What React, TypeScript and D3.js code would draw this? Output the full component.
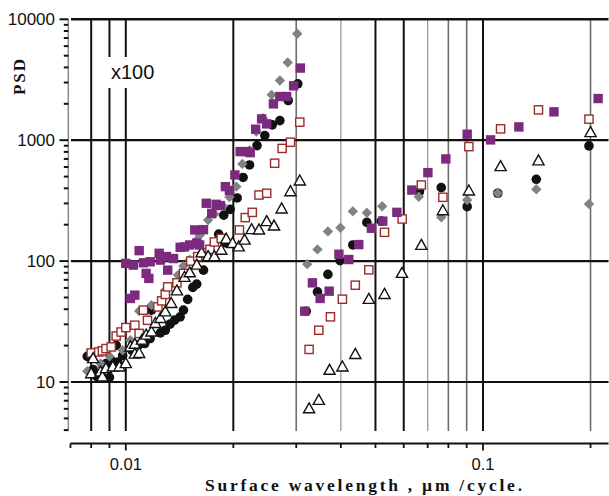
import React from "react";
import * as d3 from "d3";

// ---------- data (x: surface wavelength µm/cycle, y: PSD) ----------
const grayDiamonds: [number, number][] = [
  [0.0078, 12.3], [0.0085, 14.2], [0.009, 16.3], [0.0098, 18.3], [0.0103, 22.2], [0.0109, 38.7],
  [0.0118, 43.2], [0.0129, 57.5], [0.014, 76.6], [0.0145, 90.9], [0.0151, 102], [0.0158, 149],
  [0.0161, 164], [0.017, 219], [0.0177, 245], [0.0187, 286], [0.0195, 339], [0.0204, 413],
  [0.0212, 637], [0.0222, 824], [0.0232, 1179], [0.0242, 1522], [0.0256, 2373], [0.027, 3118],
  [0.0284, 4395], [0.0302, 7600],
  [0.0322, 94.4], [0.0344, 125], [0.0368, 176], [0.0399, 189], [0.0432, 258], [0.0473, 251],
  [0.0522, 284], [0.0661, 341], [0.0764, 230], [0.0903, 320], [0.11, 364], [0.141, 393], [0.198, 297],
];

const blackCircles: [number, number][] = [
  [0.0078, 16.3], [0.0081, 12.7], [0.0083, 11.1], [0.0086, 13.8], [0.0088, 14.2], [0.009, 10.9],
  [0.0091, 15.1], [0.0094, 20.1], [0.0095, 14.6], [0.0098, 16.6], [0.0104, 18.3], [0.0109, 20.4],
  [0.0113, 20.8], [0.0117, 22.9], [0.0118, 39.3], [0.0125, 25.5], [0.0129, 26.8], [0.0133, 30.1],
  [0.0137, 32.5], [0.0142, 34.6], [0.0145, 39.3], [0.0149, 48.2], [0.0154, 60.6], [0.0158, 64.5],
  [0.0165, 84.2], [0.0182, 167], [0.0188, 240], [0.0191, 141], [0.0196, 268], [0.0205, 333],
  [0.0213, 492], [0.0222, 624], [0.0233, 902], [0.0245, 1092], [0.0257, 1339], [0.027, 1453],
  [0.0285, 2129], [0.0303, 2927],
  [0.032, 38.5], [0.0344, 55.7], [0.0368, 77.6], [0.0398, 101], [0.0432, 136], [0.0473, 209],
  [0.0519, 214], [0.0664, 375], [0.0764, 405], [0.0903, 282], [0.11, 364], [0.141, 475], [0.198, 897],
];

const purpleSquares: [number, number][] = [
  [0.01, 95.7], [0.0103, 49.1], [0.0105, 92.7], [0.0106, 52.3], [0.0109, 122], [0.0112, 96.8],
  [0.0114, 79.1], [0.0116, 71.9], [0.0117, 98.7], [0.0124, 116], [0.0125, 102], [0.013, 109],
  [0.0131, 84.2], [0.0136, 105], [0.0142, 130], [0.0146, 131], [0.0151, 136], [0.0158, 141],
  [0.0161, 136], [0.0156, 181], [0.0165, 182], [0.0168, 301], [0.0174, 248], [0.0179, 295],
  [0.0184, 288], [0.019, 413], [0.0195, 384], [0.0202, 516], [0.0209, 805], [0.0218, 805],
  [0.0223, 789], [0.0231, 1233], [0.024, 1501], [0.0248, 1365], [0.0259, 1998], [0.027, 2297],
  [0.0282, 2297], [0.0295, 2818], [0.0308, 3950],
  [0.0317, 38.5], [0.0333, 66.1], [0.035, 49.1], [0.0371, 56.4], [0.0395, 114], [0.0421, 103],
  [0.0449, 137], [0.0487, 187], [0.0524, 214], [0.0574, 253], [0.0632, 387], [0.0701, 539],
  [0.0787, 700], [0.0903, 1121], [0.105, 1006], [0.126, 1288], [0.158, 1716], [0.21, 2211],
];

const openSquares: [number, number][] = [
  [0.008, 17.4], [0.0084, 17.7], [0.0086, 18.1], [0.0088, 18.9], [0.0091, 19.5], [0.0094, 24.0],
  [0.0097, 25.9], [0.01, 28.2], [0.0106, 29.5], [0.0109, 25.2], [0.0112, 39.3], [0.0115, 32.4],
  [0.0123, 41.8], [0.0126, 46.9], [0.0129, 53.0], [0.0131, 61.2], [0.0139, 66.1], [0.0145, 79.1],
  [0.0152, 100], [0.0159, 109], [0.0165, 117], [0.0172, 125], [0.0177, 144], [0.0185, 154],
  [0.0208, 181], [0.0216, 229], [0.0226, 253], [0.0236, 352], [0.0248, 364], [0.0261, 645],
  [0.0274, 855], [0.0289, 962], [0.0307, 1410],
  [0.0326, 18.6], [0.0347, 26.8], [0.0374, 34.6], [0.0404, 48.4], [0.0439, 63.2], [0.0479, 84.7],
  [0.053, 173], [0.0594, 223], [0.0672, 426], [0.0772, 337], [0.0913, 885], [0.112, 1241],
  [0.143, 1782], [0.198, 1493],
];

const openTriangles: [number, number][] = [
  [0.008, 11.7], [0.0081, 15.6], [0.0085, 12.1], [0.0086, 11.0], [0.0088, 12.9], [0.0092, 13.3],
  [0.0096, 13.3], [0.01, 14.2], [0.0103, 19.5], [0.0106, 20.5], [0.0106, 17.0], [0.0109, 17.2],
  [0.0111, 22.2], [0.0114, 24.4], [0.0118, 25.9], [0.0121, 30.5], [0.0125, 33.5], [0.0129, 38.0],
  [0.0134, 44.6], [0.0139, 56.7], [0.0146, 73.3], [0.0151, 80.0], [0.0158, 92.7], [0.0163, 117],
  [0.017, 109], [0.0177, 109], [0.0185, 123], [0.0191, 152], [0.0199, 140], [0.0207, 131],
  [0.0215, 149], [0.0225, 182], [0.0236, 181], [0.0248, 212], [0.026, 195], [0.0273, 270],
  [0.0289, 375], [0.0307, 460],
  [0.0326, 6.0], [0.0347, 7.05], [0.0372, 12.5], [0.0404, 13.3], [0.0439, 16.9], [0.0479, 48.2],
  [0.053, 53.0], [0.0593, 79.1], [0.0672, 135], [0.0772, 261], [0.0913, 380], [0.112, 604],
  [0.143, 674], [0.2, 1156],
];

const gridXValues = [0.008, 0.009, 0.01, 0.02, 0.03, 0.04, 0.05, 0.06, 0.07, 0.08, 0.09, 0.1, 0.2];
const heavyGridX = [0.008, 0.009, 0.01, 0.02, 0.05, 0.06, 0.1];
const xTickValues = [0.007, 0.008, 0.009, 0.01, 0.02, 0.03, 0.04, 0.05, 0.06, 0.07, 0.08, 0.09, 0.1, 0.2];
const xTickLabels: [number, string][] = [[0.01, "0.01"], [0.1, "0.1"]];
const yMajorValues = [10, 100, 1000, 10000];
const yTickLabels = ["10", "100", "1000", "10000"];

export default function App() {
  const W = 609, H = 496;
  const x = d3.scaleLog().domain([0.01, 0.1]).range([125.8, 483]);
  const y = d3.scaleLog().domain([10, 10000]).range([382, 19.3]);
  const plotLeft = 71, plotRight = 608.5, plotTop = 19.3, plotBottom = 431;
  const axisX = 68.3, axisY = 443.5;

  const yMinor: number[] = [];
  for (const dec of [1, 10, 100, 1000]) {
    for (let k = 2; k <= 9; k++) {
      const v = k * dec;
      if (y(v) <= plotBottom + 0.5 && v < 10000) yMinor.push(v);
    }
  }

  const gridStroke = (v: number) => {
    if (heavyGridX.includes(v)) return { stroke: "#111", w: 2 };
    if (v === 0.04 || v === 0.07) return { stroke: "#9a9a9a", w: 1.3 };
    return { stroke: "#6e6e6e", w: 1.6 };
  };

  const sq = 9.4, osq = 8.2, cr = 4.8, dr = 5.2;
  const purple = "#7c2a7e";
  const gray = "#818285";
  const darkRed = "#9b2c2c";

  return (
    <svg width={W} height={H} style={{ position: "absolute", left: 0, top: 0, background: "#fff" }}>
      <rect x={0} y={0} width={W} height={H} fill="#fff" />
      {/* vertical grid lines */}
      {gridXValues.map((v) => {
        const s = gridStroke(v);
        return <line key={"gx" + v} x1={x(v)} x2={x(v)} y1={plotTop} y2={plotBottom} stroke={s.stroke} strokeWidth={s.w} />;
      })}
      {/* horizontal grid lines */}
      {yMajorValues.map((v) => (
        <line key={"gy" + v} x1={plotLeft} x2={plotRight} y1={y(v)} y2={y(v)} stroke="#111" strokeWidth={v === 10000 ? 2.6 : 2.2} />
      ))}
      {/* x100 annotation */}
      <rect x={107} y={57} width={52} height={31} fill="#fff" />
      <text x={111} y={78.5} fontFamily="'Liberation Sans', Arial, sans-serif" fontSize={20} fill="#111">x100</text>

      {/* y axis */}
      <line x1={axisX} x2={axisX} y1={plotTop} y2={plotBottom} stroke="#8a8a8a" strokeWidth={1.5} />
      {yMajorValues.map((v) => (
        <line key={"yt" + v} x1={59.5} x2={axisX} y1={y(v)} y2={y(v)} stroke="#111" strokeWidth={2} />
      ))}
      {yMinor.map((v) => (
        <line key={"ym" + v} x1={63.8} x2={axisX} y1={y(v)} y2={y(v)} stroke="#111" strokeWidth={2} />
      ))}
      {yMajorValues.map((v, i) => (
        <text key={"yl" + v} x={55} y={y(v) + 6} textAnchor="end" fontFamily="'Liberation Sans', Arial, sans-serif" fontSize={17} fill="#111">
          {yTickLabels[i]}
        </text>
      ))}
      <text
        transform="translate(25,77) rotate(-90)"
        textAnchor="middle"
        fontFamily="'Liberation Serif', 'Times New Roman', serif"
        fontWeight="bold"
        fontSize={17}
        textLength={36}
        lengthAdjust="spacing"
        fill="#111"
      >
        PSD
      </text>

      {/* x axis */}
      <line x1={70.5} x2={plotRight} y1={axisY} y2={axisY} stroke="#111" strokeWidth={2.2} />
      {xTickValues.map((v) => (
        <line key={"xt" + v} x1={x(v)} x2={x(v)} y1={axisY} y2={axisY + (v === 0.01 || v === 0.1 ? 7 : 4.5)} stroke="#111" strokeWidth={1.8} />
      ))}
      {xTickLabels.map(([v, l]) => (
        <text key={"xl" + v} x={x(v)} y={470} textAnchor="middle" fontFamily="'Liberation Sans', Arial, sans-serif" fontSize={16.5} fill="#111">
          {l}
        </text>
      ))}
      <text
        x={205}
        y={491}
        fontFamily="'Liberation Serif', 'Times New Roman', serif"
        fontWeight="bold"
        fontSize={17.5}
        textLength={317}
        lengthAdjust="spacing"
        fill="#111"
      >
        Surface wavelength , µm /cycle.
      </text>

      {/* series */}
      <g>
        {blackCircles.map(([a, b], i) => (
          <circle key={"c" + i} cx={x(a)} cy={y(b)} r={cr} fill="#111" />
        ))}
      </g>
      <g>
        {grayDiamonds.map(([a, b], i) => {
          const cx = x(a), cy = y(b);
          return <path key={"d" + i} d={`M${cx},${cy - dr}L${cx + dr},${cy}L${cx},${cy + dr}L${cx - dr},${cy}Z`} fill={gray} />;
        })}
      </g>
      <g>
        {openSquares.map(([a, b], i) => (
          <rect key={"o" + i} x={x(a) - osq / 2} y={y(b) - osq / 2} width={osq} height={osq} fill="#fff" stroke={darkRed} strokeWidth={1.4} />
        ))}
      </g>
      <g>
        {openTriangles.map(([a, b], i) => {
          const cx = x(a), cy = y(b);
          return (
            <path key={"t" + i} d={`M${cx},${cy - 6}L${cx + 5.6},${cy + 4}L${cx - 5.6},${cy + 4}Z`} fill="#fff" stroke="#111" strokeWidth={1.4} />
          );
        })}
      </g>
      <g>
        {purpleSquares.map(([a, b], i) => (
          <rect key={"p" + i} x={x(a) - sq / 2} y={y(b) - sq / 2} width={sq} height={sq} fill={purple} />
        ))}
      </g>
    </svg>
  );
}
